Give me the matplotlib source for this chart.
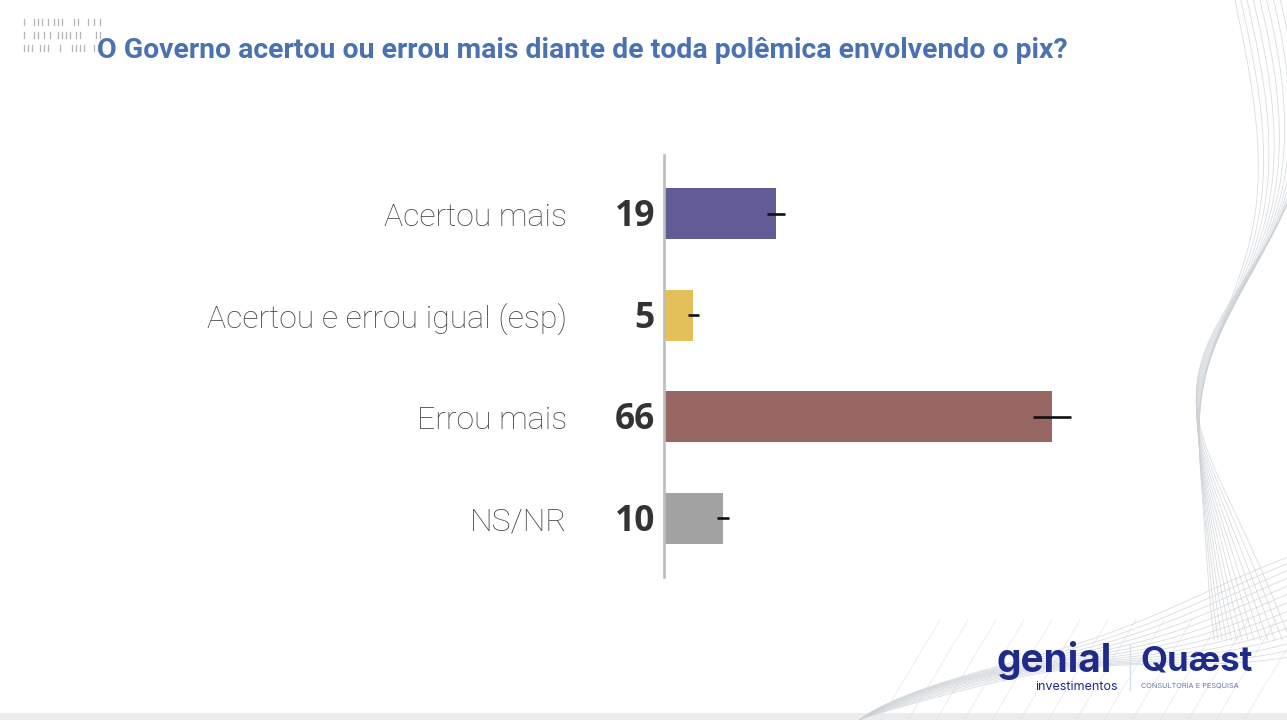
import numpy as np
import matplotlib.pyplot as plt
from matplotlib.lines import Line2D

# ---- data ----
categories = ["Acertou mais", "Acertou e errou igual (esp)", "Errou mais", "NS/NR"]
values = [19, 5, 66, 10]
errors = [1.5, 0.9, 3.3, 1.0]
bar_colors = ["#615b96", "#e3c05a", "#986763", "#a3a3a3"]
title = "O Governo acertou ou errou mais diante de toda polêmica envolvendo o pix?"

W, H = 1287, 720
fig = plt.figure(figsize=(W / 100, H / 100), dpi=100)
fig.patch.set_facecolor("white")

def fx(px):
    return px / W

def fy(py):
    return 1 - py / H

# ---- decorative waves (background) ----
deco = fig.add_axes([0, 0, 1, 1], zorder=0)
deco.set_xlim(0, W)
deco.set_ylim(H, 0)
deco.axis("off")
yy = np.linspace(0, 640, 300)
for i in range(14):
    ph = i * 0.09
    amp = 25 + i * 1.5
    x = 1235 + i * 3.5 + amp * np.sin(yy / 120 + ph) - 30 * np.exp(-((yy - 380) / 120) ** 2) * (1 + 0.03 * i)
    deco.plot(x, yy, color="#ccd1d5", lw=0.6, alpha=0.75)
xx = np.linspace(860, 1287, 300)
for i in range(14):
    t = (xx - 860) / 427
    y = 720 - (80 + i * 5) * t ** 0.8 - 18 * np.sin(t * 5 + i * 0.2) * t
    deco.plot(xx, y, color="#ccd1d5", lw=0.6, alpha=0.75)
for i in range(14):
    x0 = 880 + i * 28
    deco.plot([x0, x0 + 60], [720, 620], color="#d8dcdf", lw=0.5, alpha=0.7)
deco.add_patch(plt.Rectangle((0, 713), W, 7, color="#ececec", lw=0))

# tiny marks top-left
rng_rows = [(22, [0, 10, 14, 18, 24, 30, 34, 38, 50, 54, 64, 70, 76]),
            (35, [0, 10, 14, 20, 26, 34, 38, 42, 46, 52, 56, 72, 76]),
            (48, [0, 4, 8, 16, 20, 24, 36, 48, 52, 56, 60, 70, 74])]
for yv, xs in rng_rows:
    for xv in xs:
        deco.plot([24 + xv, 24 + xv], [yv - 3, yv + 3], color="#b5b5b5", lw=0.9)

# ---- main bar chart ----
ax = fig.add_axes([fx(664), fy(577), fx(441), 422 / H], zorder=2)
ax.set_facecolor("none")
ypos = np.arange(len(categories))
ax.barh(ypos, values, height=0.5, color=bar_colors, zorder=2)
ax.errorbar(values, ypos, xerr=errors, fmt="none", ecolor="#111111",
            elinewidth=1.9, capsize=0, zorder=3)
ax.set_xlim(0, 75)
ax.set_ylim(3.58, -0.58)
for s in ["top", "right", "bottom"]:
    ax.spines[s].set_visible(False)
ax.spines["left"].set_color("#bdbdbd")
ax.spines["left"].set_linewidth(1.9)
ax.set_xticks([])
ax.set_yticks([])

for yv, v, c in zip(ypos, values, categories):
    ax.annotate(str(v), xy=(0, yv), xytext=(-6.5, -2.5), textcoords="offset points",
                ha="right", va="center", fontsize=25.5, fontweight="bold",
                color="#333333", family="Open Sans")
    ax.annotate(c, xy=(0, yv), xytext=(-70, -2.5), textcoords="offset points",
                ha="right", va="center", fontsize=23, fontweight="light",
                color="#474747", family="Roboto")

# ---- title ----
fig.text(fx(97), fy(50), title, ha="left", va="center", fontsize=20.4,
         fontweight="bold", color="#4a72b2", family="Roboto")

# ---- logos (as text) ----
fig.text(fx(997), fy(660), "genial", ha="left", va="center", fontsize=28,
         fontweight="bold", color="#1f2a8a", family="Inter")
fig.text(fx(1118), fy(687), "investimentos", ha="right", va="center", fontsize=9,
         color="#1f2a8a", family="Inter")
fig.add_artist(Line2D([fx(1130), fx(1130)], [fy(645), fy(690)], color="#cfe3ee", lw=1))
fig.text(fx(1140), fy(661), "Quæst", ha="left", va="center", fontsize=25,
         fontweight="bold", color="#1f2a8a", family="Inter")
fig.text(fx(1141), fy(686), "CONSULTORIA E PESQUISA", ha="left", va="center",
         fontsize=5.3, color="#6a78a8", family="Inter")

fig.savefig("out.png", dpi=100, facecolor="white")
